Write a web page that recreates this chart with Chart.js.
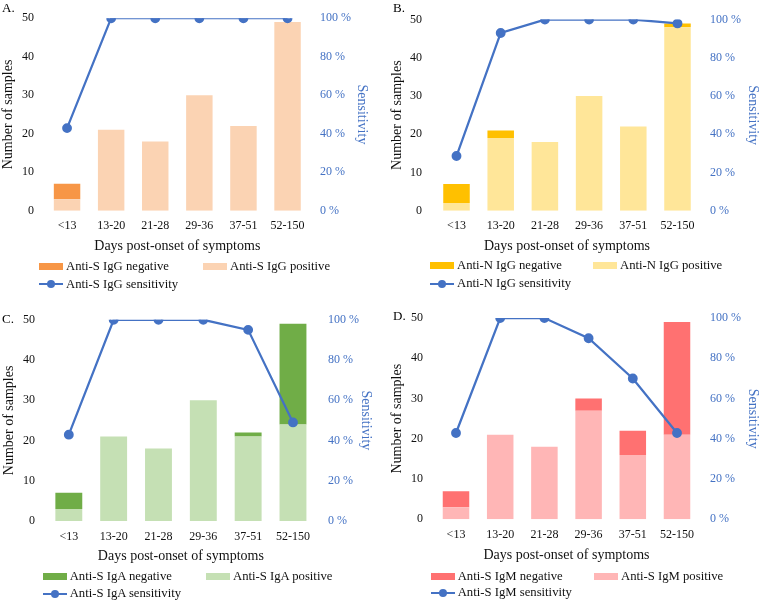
<!DOCTYPE html>
<html><head><meta charset="utf-8">
<script src="https://cdn.jsdelivr.net/npm/chart.js@4.4.0/dist/chart.umd.min.js"></script>
<style>
body{margin:0;background:#fff;}
#wrap{position:relative;width:760px;height:602px;overflow:hidden;font-family:"Liberation Serif","Times New Roman",serif;background:#fff;}
#wrap canvas{position:absolute;}
.plbl{position:absolute;font-size:13px;line-height:14px;color:#000;}
.legtxt{position:absolute;font-size:12.7px;line-height:14px;color:#111;white-space:nowrap;}
.sw{position:absolute;width:24px;height:7px;}
.ln{position:absolute;width:24px;height:2px;background:#4472C4;}
.dot{position:absolute;width:8px;height:8px;border-radius:50%;background:#4472C4;}
</style>
</head><body>
<div id="wrap"></div>
<script>
// ---- data ----
const categories = ['<13', '13-20', '21-28', '29-36', '37-51', '52-150'];
const yTicksLeft = [0, 10, 20, 30, 40, 50];
const yTicksRight = [0, 20, 40, 60, 80, 100];

const sIgGPositive = [3, 21, 18, 30, 22, 49];
const sIgGNegative = [4, 0, 0, 0, 0, 0];
const sIgGSensitivity = [42.9, 100, 100, 100, 100, 100];

const nIgGPositive = [2, 19, 18, 30, 22, 48];
const nIgGNegative = [5, 2, 0, 0, 0, 1];
const nIgGSensitivity = [28.6, 93, 100, 100, 100, 98];

const sIgAPositive = [3, 21, 18, 30, 21, 24];
const sIgANegative = [4, 0, 0, 0, 1, 25];
const sIgASensitivity = [42.9, 100, 100, 100, 95, 49];

const sIgMPositive = [3, 21, 18, 27, 16, 21];
const sIgMNegative = [4, 0, 0, 3, 6, 28];
const sIgMSensitivity = [42.9, 100, 100, 90, 70, 42.9];

const seriesNames = {
  A: ['Anti-S IgG negative', 'Anti-S IgG positive', 'Anti-S IgG sensitivity'],
  B: ['Anti-N IgG negative', 'Anti-N IgG positive', 'Anti-N IgG sensitivity'],
  C: ['Anti-S IgA negative', 'Anti-S IgA positive', 'Anti-S IgA sensitivity'],
  D: ['Anti-S IgM negative', 'Anti-S IgM positive', 'Anti-S IgM sensitivity']
};

// ---- layout / style ----
const FONT = '"Liberation Serif", "Times New Roman", serif';
const BLUE = '#4472C4';
const panels = [
  {id:'A', pos:sIgGPositive, neg:sIgGNegative, sens:sIgGSensitivity, cNeg:'#F79646', cPos:'#FBD3B3',
   ox:0, oy:0, w:380, h:260, L:45, R:309.6, T:7.3, B:210.7, yLabEnd:34, y1LabStart:320, yTitleX:8, y1TitleX:362,
   xLabY:226, xTitleY:246, legX1:39, legX2:203, legY1:266, legY2:284, lblX:2, lblY:8},
  {id:'B', pos:nIgGPositive, neg:nIgGNegative, sens:nIgGSensitivity, cNeg:'#FFC000', cPos:'#FFE699',
   ox:380, oy:0, w:380, h:260, L:434.4, R:699.6, T:7.3, B:210.7, yLabEnd:422, y1LabStart:710, yTitleX:397.5, y1TitleX:753,
   xLabY:226, xTitleY:246, legX1:430, legX2:593, legY1:265.5, legY2:283.5, lblX:393, lblY:8},
  {id:'C', pos:sIgAPositive, neg:sIgANegative, sens:sIgASensitivity, cNeg:'#70AD47', cPos:'#C5E0B4',
   ox:0, oy:300, w:380, h:270, L:46.4, R:315.4, T:318.3, B:521, yLabEnd:35, y1LabStart:328, yTitleX:9.5, y1TitleX:366,
   xLabY:537.3, xTitleY:556.7, legX1:42.7, legX2:206, legY1:576.3, legY2:593.5, lblX:2, lblY:318.5},
  {id:'D', pos:sIgMPositive, neg:sIgMNegative, sens:sIgMSensitivity, cNeg:'#FF7171', cPos:'#FFB6B6',
   ox:380, oy:300, w:380, h:270, L:433.9, R:699.1, T:316, B:519.3, yLabEnd:423, y1LabStart:710, yTitleX:397.5, y1TitleX:753,
   xLabY:535.3, xTitleY:555, legX1:430.7, legX2:594, legY1:576, legY2:592.8, lblX:393, lblY:316}
];

const wrap = document.getElementById('wrap');
function el(cls, x, y, txt){
  const d = document.createElement('div');
  d.className = cls; d.style.left = x + 'px'; d.style.top = y + 'px';
  if (txt !== undefined) d.textContent = txt;
  wrap.appendChild(d); return d;
}

panels.forEach(p => {
  const cv = document.createElement('canvas');
  cv.width = p.w; cv.height = p.h;
  cv.style.left = p.ox + 'px'; cv.style.top = p.oy + 'px';
  cv.style.width = p.w + 'px'; cv.style.height = p.h + 'px';
  wrap.appendChild(cv);

  const tickFont = {family: FONT, size: 12};
  const titleFont = {family: FONT, size: 14};
  const lh = 14 * 1.2 / 2;
  const yW = p.L - p.ox, y1W = p.ox + p.w - p.R, xH = p.oy + p.h - p.B;
  const names = seriesNames[p.id];

  new Chart(cv, {
    data: {
      labels: categories,
      datasets: [
        {type:'line', label:names[2], data:p.sens, yAxisID:'y1', order:0,
         borderColor:BLUE, backgroundColor:BLUE, borderWidth:2.25, pointRadius:3.8,
         pointBackgroundColor:BLUE, pointBorderColor:BLUE, tension:0},
        {type:'bar', label:names[1], data:p.pos, yAxisID:'y', order:1, stack:'s',
         backgroundColor:p.cPos, borderWidth:0, barPercentage:0.6, categoryPercentage:1},
        {type:'bar', label:names[0], data:p.neg, yAxisID:'y', order:1, stack:'s',
         backgroundColor:p.cNeg, borderWidth:0, barPercentage:0.6, categoryPercentage:1}
      ]
    },
    options: {
      responsive:false, animation:false, devicePixelRatio:1,
      layout:{padding:{top:p.T - p.oy, left:0, right:0, bottom:0}},
      plugins:{legend:{display:false}, tooltip:{enabled:false}},
      scales:{
        x:{type:'category', stacked:true, offset:true,
           grid:{display:false, drawTicks:false}, border:{display:false},
           ticks:{font:tickFont, color:'#111', padding:(p.xLabY - p.B) - 7.2, maxRotation:0, autoSkip:false},
           title:{display:true, text:'Days post-onset of symptoms', font:titleFont, color:'#111',
                  padding:{top:0, bottom:(p.oy + p.h - p.xTitleY) - lh}},
           afterFit:s => { s.height = xH; }},
        y:{type:'linear', position:'left', stacked:true, min:0, max:50,
           afterBuildTicks:s => { s.ticks = yTicksLeft.map(v => ({value:v})); },
           grid:{display:false, drawTicks:false}, border:{display:false},
           ticks:{font:tickFont, color:'#111', padding:p.L - p.yLabEnd},
           title:{display:true, text:'Number of samples', font:titleFont, color:'#111',
                  padding:{top:(p.yTitleX - p.ox) - lh, bottom:0}},
           afterFit:s => { s.width = yW; }},
        y1:{type:'linear', position:'right', min:0, max:100,
           afterBuildTicks:s => { s.ticks = yTicksRight.map(v => ({value:v})); },
           grid:{display:false, drawTicks:false}, border:{display:false},
           ticks:{font:tickFont, color:BLUE, padding:p.y1LabStart - p.R, callback:v => v + ' %'},
           title:{display:true, text:'Sensitivity', font:titleFont, color:BLUE,
                  padding:{top:(p.ox + p.w - p.y1TitleX) - lh, bottom:0}},
           afterFit:s => { s.width = y1W; }}
      }
    }
  });

  // panel label
  el('plbl', p.lblX, p.lblY - 7, p.id + '.');
  // legend
  const s1 = el('sw', p.legX1, p.legY1 - 3.5); s1.style.background = p.cNeg;
  el('legtxt', p.legX1 + 27, p.legY1 - 7.5, names[0]);
  const s2 = el('sw', p.legX2, p.legY1 - 3.5); s2.style.background = p.cPos;
  el('legtxt', p.legX2 + 27, p.legY1 - 7.5, names[1]);
  el('ln', p.legX1, p.legY2 - 1);
  el('dot', p.legX1 + 8, p.legY2 - 4);
  el('legtxt', p.legX1 + 27, p.legY2 - 7.5, names[2]);
});
</script>
</body></html>
